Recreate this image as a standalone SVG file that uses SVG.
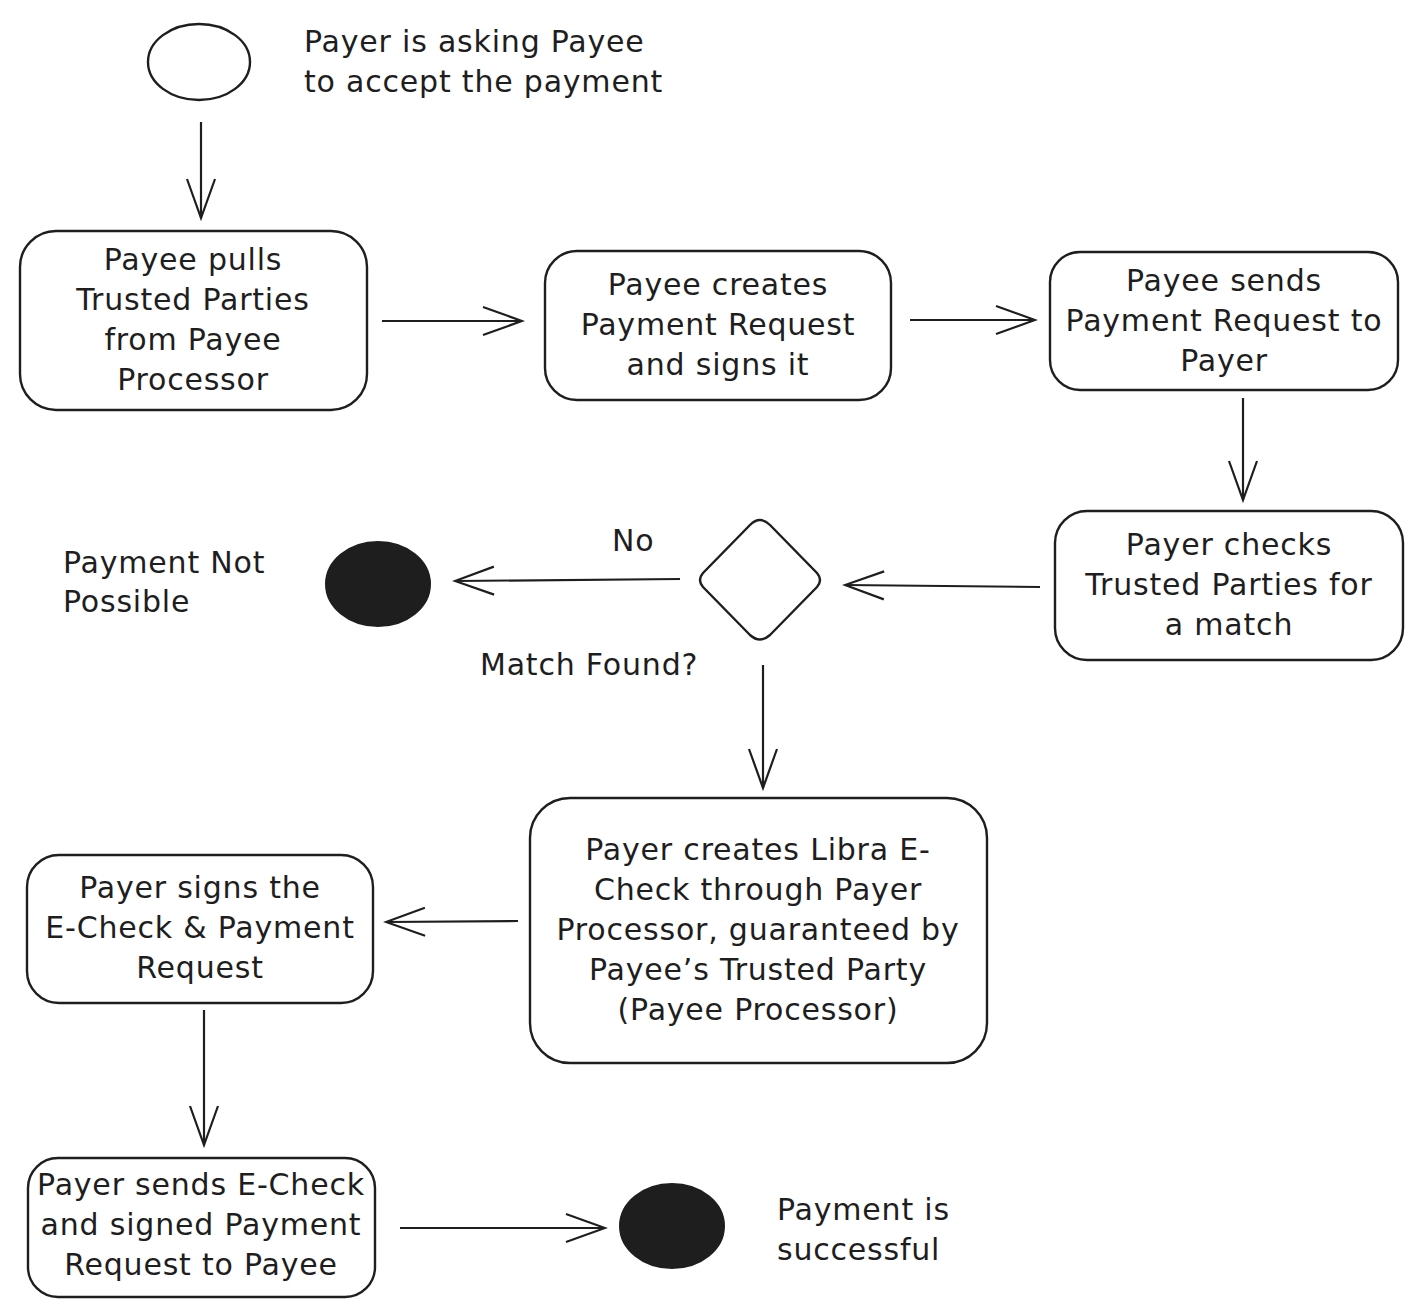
<svg xmlns="http://www.w3.org/2000/svg" width="1422" height="1316" viewBox="0 0 1422 1316">
<style>
.n{fill:#ffffff;stroke:#1e1e1e;stroke-width:2.4}
.d{fill:#1e1e1e;stroke:#1e1e1e;stroke-width:2}
.t{font-family:"DejaVu Sans","Liberation Sans",sans-serif;font-size:30px;letter-spacing:0.8px;fill:#1e1e1e}
.c{text-anchor:middle}
.e{stroke:#1e1e1e;stroke-width:2.2;fill:none}
</style>
<defs>
<marker id="ah" markerUnits="userSpaceOnUse" markerWidth="44" markerHeight="32" refX="41" refY="16" orient="auto">
<path d="M2,2 L41,16 L2,30" fill="none" stroke="#1e1e1e" stroke-width="2.2"/>
</marker>
</defs>
<rect width="1422" height="1316" fill="#ffffff"/>
<g id="connectors">
<path class="e" d="M201,122 L201,218" marker-end="url(#ah)"/>
<path class="e" d="M382,321 L522,321" marker-end="url(#ah)"/>
<path class="e" d="M910,320 L1035,320" marker-end="url(#ah)"/>
<path class="e" d="M1243,398 L1243,500" marker-end="url(#ah)"/>
<path class="e" d="M1040,587 L845,585" marker-end="url(#ah)"/>
<path class="e" d="M680,579 L455,581" marker-end="url(#ah)"/>
<path class="e" d="M763,665 L763,788" marker-end="url(#ah)"/>
<path class="e" d="M518,921 L386,922" marker-end="url(#ah)"/>
<path class="e" d="M204,1010 L204,1145" marker-end="url(#ah)"/>
<path class="e" d="M400,1228 L605,1228" marker-end="url(#ah)"/>
</g>
<g id="start"><ellipse class="n" cx="199" cy="62" rx="51" ry="38"/></g>
<g id="start-label"><text class="t" x="304" y="52">Payer is asking Payee</text><text class="t" x="304" y="92">to accept the payment</text></g>
<g id="n1"><rect class="n" x="20" y="231" width="347" height="179" rx="36"/>
<text class="t c" x="193" y="270">Payee pulls</text><text class="t c" x="193" y="310">Trusted Parties</text><text class="t c" x="193" y="350">from Payee</text><text class="t c" x="193" y="390">Processor</text></g>
<g id="n2"><rect class="n" x="545" y="251" width="346" height="149" rx="32"/>
<text class="t c" x="718" y="295">Payee creates</text><text class="t c" x="718" y="335">Payment Request</text><text class="t c" x="718" y="375">and signs it</text></g>
<g id="n3"><rect class="n" x="1050" y="252" width="348" height="138" rx="30"/>
<text class="t c" x="1224" y="291">Payee sends</text><text class="t c" x="1224" y="331">Payment Request to</text><text class="t c" x="1224" y="371">Payer</text></g>
<g id="n4"><rect class="n" x="1055" y="511" width="348" height="149" rx="32"/>
<text class="t c" x="1229" y="555">Payer checks</text><text class="t c" x="1229" y="595">Trusted Parties for</text><text class="t c" x="1229" y="635">a match</text></g>
<g id="decision"><path class="n" d="M760,520 Q765,520 770,525 L817,573 Q823,580 817,587 L770,635 Q760,644 750,635 L703,587 Q697,580 703,573 L750,525 Q755,520 760,520 Z"/></g>
<g id="decision-labels"><text class="t" x="612" y="551">No</text><text class="t" x="480" y="675">Match Found?</text></g>
<g id="end-fail"><ellipse class="d" cx="378" cy="584" rx="52" ry="42"/></g>
<g id="end-fail-label"><text class="t" x="63" y="573">Payment Not</text><text class="t" x="63" y="612">Possible</text></g>
<g id="n5"><rect class="n" x="530" y="798" width="457" height="265" rx="40"/>
<text class="t c" x="758" y="860">Payer creates Libra E-</text><text class="t c" x="758" y="900">Check through Payer</text><text class="t c" x="758" y="940">Processor, guaranteed by</text><text class="t c" x="758" y="980">Payee’s Trusted Party</text><text class="t c" x="758" y="1020">(Payee Processor)</text></g>
<g id="n6"><rect class="n" x="27" y="855" width="346" height="148" rx="32"/>
<text class="t c" x="200" y="898">Payer signs the</text><text class="t c" x="200" y="938">E-Check &amp; Payment</text><text class="t c" x="200" y="978">Request</text></g>
<g id="n7"><rect class="n" x="28" y="1158" width="347" height="139" rx="30"/>
<text class="t c" x="201" y="1195">Payer sends E-Check</text><text class="t c" x="201" y="1235">and signed Payment</text><text class="t c" x="201" y="1275">Request to Payee</text></g>
<g id="end-ok"><ellipse class="d" cx="672" cy="1226" rx="52" ry="42"/></g>
<g id="end-ok-label"><text class="t" x="777" y="1220">Payment is</text><text class="t" x="777" y="1260">successful</text></g>
</svg>
